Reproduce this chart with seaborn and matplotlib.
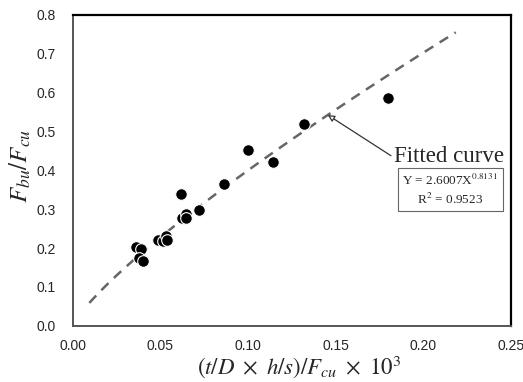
import numpy as np
import pandas as pd
import matplotlib
matplotlib.use('Agg')
import matplotlib.pyplot as plt
import seaborn as sns

# measured points
x_vals = [0.0359, 0.0388, 0.0377, 0.0400, 0.0484, 0.0516, 0.0531, 0.0537,
          0.0617, 0.0624, 0.0649, 0.0649, 0.0721, 0.0861, 0.0999, 0.1144,
          0.1318, 0.1800]
y_vals = [0.2024, 0.1970, 0.1740, 0.1680, 0.2220, 0.2195, 0.2315, 0.2220,
          0.3380, 0.2770, 0.2890, 0.2770, 0.2990, 0.3660, 0.4536, 0.4210,
          0.5200, 0.5850]

# fitted power law Y = a X^b
fit_a = 2.6007
fit_b = 0.8131
fit_r2 = 0.9523
fit_x_range = (0.0095, 0.2185)

x_ticks = [0.00, 0.05, 0.10, 0.15, 0.20, 0.25]
y_ticks = [0.0, 0.1, 0.2, 0.3, 0.4, 0.5, 0.6, 0.7, 0.8]

sns.set_style('white')
plt.rcParams['font.family'] = ['Liberation Sans', 'DejaVu Sans']
plt.rcParams['mathtext.fontset'] = 'stix'

df = pd.DataFrame({'x': x_vals, 'y': y_vals})
xf = np.linspace(fit_x_range[0], fit_x_range[1], 100)
fit_df = pd.DataFrame({'x': xf, 'y': fit_a * xf ** fit_b})

fig = plt.figure(figsize=(5.23, 3.82), dpi=100)
ax = fig.add_axes([0.139, 0.147, 0.838, 0.814])

sns.lineplot(data=fit_df, x='x', y='y', ax=ax, color='#666666',
             linestyle=(0, (4, 3)), linewidth=1.8)
sns.scatterplot(data=df, x='x', y='y', ax=ax, color='black', s=70,
                edgecolor='white', linewidth=0.8, zorder=3)

ax.set_xlim(0, 0.25)
ax.set_ylim(0, 0.8)
ax.set_xticks(x_ticks)
ax.set_yticks(y_ticks)
ax.set_xticklabels([f'{v:.2f}' for v in x_ticks], fontsize=10)
ax.set_yticklabels([f'{v:.1f}' for v in y_ticks], fontsize=10)
ax.tick_params(axis='y', direction='out', length=3, width=1, color='#555555', pad=9)
ax.tick_params(axis='x', direction='inout', length=5, width=1, color='#555555', pad=7)

for side in ['top', 'right']:
    ax.spines[side].set_color('black')
    ax.spines[side].set_linewidth(1.6)
for side in ['left', 'bottom']:
    ax.spines[side].set_color('#555555')
    ax.spines[side].set_linewidth(1.4)

ax.set_xlabel(r'$(t/D\ \times\ h/s)/F_{cu}\ \times\ 10^3$', fontsize=16.5)
ax.xaxis.set_label_coords(0.516, -0.087, transform=ax.transAxes)
ax.xaxis.label.set_va('top')
ax.set_ylabel(r'$F_{bu}/F_{cu}$', fontsize=18)
ax.yaxis.set_label_coords(-0.09, 0.514)

xa = 0.1455
ax.annotate('Fitted curve', xy=(xa, fit_a * xa ** fit_b), xytext=(0.1834, 0.435),
            fontsize=16.5, family='Liberation Serif', ha='left', va='center',
            arrowprops=dict(arrowstyle='-|>', color='#333333', lw=0.9,
                            fc='white', mutation_scale=10, shrinkA=0, shrinkB=0,
                            relpos=(0, 0.45)))

ax.text(0.2153, 0.35,
        r'Y = 2.6007X$^{0.8131}$' + '\n' + r'R$^2$ = 0.9523',
        fontsize=9.5, family='Liberation Serif', ha='center', va='center',
        linespacing=1.3,
        bbox=dict(boxstyle='square,pad=0.35', fc='white', ec='#666666', lw=0.8))

fig.savefig('out.png', dpi=100)
